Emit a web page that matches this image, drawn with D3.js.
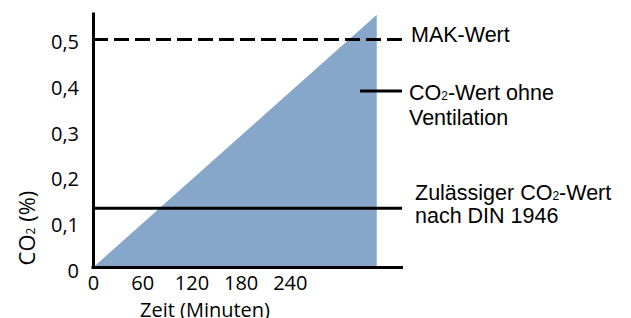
<!DOCTYPE html>
<html>
<head>
<meta charset="utf-8">
<script src="https://cdn.jsdelivr.net/npm/d3@7"></script>
<style>
  body { margin: 0; background: #fff; }
  svg { display: block; }
  .axis text { font-family: "Open Sans", sans-serif; font-size: 20px; fill: #000; }
  .axis path { stroke: #000; stroke-width: 3; }
  .legend text { font-family: "Liberation Sans", Arial, sans-serif; font-size: 21.5px; fill: #000; }
</style>
</head>
<body>
<div id="chart"></div>
<script>
// ---- data ----
const xTicks = [0, 60, 120, 180, 240];
const yTicks = [0, 0.1, 0.2, 0.3, 0.4, 0.5];
const co2Minutes = [0, 346];
const co2Values = [0, 0.554];
const makValue = 0.5;
const dinValue = 0.13;
const legendLines = [
  ["MAK-Wert"],
  ["CO₂-Wert ohne", "Ventilation"],
  ["Zulässiger CO₂-Wert", "nach DIN 1946"]
];

const width = 631, height = 318;
const svg = d3.select("#chart").append("svg")
  .attr("width", width)
  .attr("height", height);

const x = d3.scaleLinear().domain([0, 378]).range([93, 403]);
const y = d3.scaleLinear().domain([0, 0.56]).range([267.5, 12]);

// CO2 ohne Ventilation (Dreieck)
const area = d3.area()
  .x(d => x(d[0]))
  .y0(y(0))
  .y1(d => y(d[1]));

svg.append("path")
  .datum(co2Minutes.map((m, i) => [m, co2Values[i]]))
  .attr("d", area)
  .attr("fill", "#87a7ca");

const lineEnd = 402;

// MAK-Wert (gestrichelt)
svg.append("line")
  .attr("x1", x(0)).attr("x2", lineEnd)
  .attr("y1", y(makValue)).attr("y2", y(makValue))
  .attr("stroke", "#000").attr("stroke-width", 3)
  .attr("stroke-dasharray", "15,6");

// DIN 1946
svg.append("line")
  .attr("x1", x(0)).attr("x2", lineEnd)
  .attr("y1", y(dinValue)).attr("y2", y(dinValue))
  .attr("stroke", "#000").attr("stroke-width", 3);

// Legendenstrich für CO2 ohne Ventilation
svg.append("line")
  .attr("x1", 360).attr("x2", lineEnd)
  .attr("y1", 91).attr("y2", 91)
  .attr("stroke", "#000").attr("stroke-width", 3);

// Achsen
const fmt = d => String(d).replace(".", ",");

const yAxis = svg.append("g")
  .attr("class", "axis")
  .attr("transform", `translate(${x(0)},0)`)
  .call(d3.axisLeft(y).tickValues(yTicks).tickFormat(fmt).tickSize(0).tickPadding(14));
yAxis.selectAll("text").attr("dy", "0.48em");

const xAxis = svg.append("g")
  .attr("class", "axis")
  .attr("transform", `translate(0,${y(0)})`)
  .call(d3.axisBottom(x).tickValues(xTicks).tickSize(0).tickPadding(8));
xAxis.select(".domain").attr("d", `M${x(0) - 1.5},0H${x.range()[1]}`);

// Achsentitel
svg.append("text")
  .attr("x", 205).attr("y", 317)
  .attr("text-anchor", "middle")
  .style("font-family", "Open Sans, sans-serif")
  .style("font-size", "20px")
  .text("Zeit (Minuten)");

const yTitle = svg.append("text")
  .attr("transform", "translate(35,228) rotate(-90)")
  .attr("text-anchor", "middle")
  .style("font-family", "Open Sans, sans-serif")
  .style("font-size", "22px");
yTitle.append("tspan").text("CO");
yTitle.append("tspan").style("font-size", "12px").text("2");
yTitle.append("tspan").text(" (%)");

// Legendentexte
const legendPos = [
  { x: 411, y: [42.3] },
  { x: 409, y: [100, 125] },
  { x: 415, y: [200, 222.7] }
];

const legend = svg.append("g").attr("class", "legend");

// schreibt eine Zeile, ₂ als kleine Ziffer
function writeLine(sel, str) {
  const parts = str.split("₂");
  parts.forEach((p, i) => {
    sel.append("tspan").text(p);
    if (i < parts.length - 1) {
      sel.append("tspan").style("font-size", "12px").text("2");
    }
  });
}

legendLines.forEach((lines, i) => {
  lines.forEach((str, j) => {
    const t = legend.append("text")
      .attr("x", legendPos[i].x)
      .attr("y", legendPos[i].y[j]);
    writeLine(t, str);
  });
});
</script>
</body>
</html>
